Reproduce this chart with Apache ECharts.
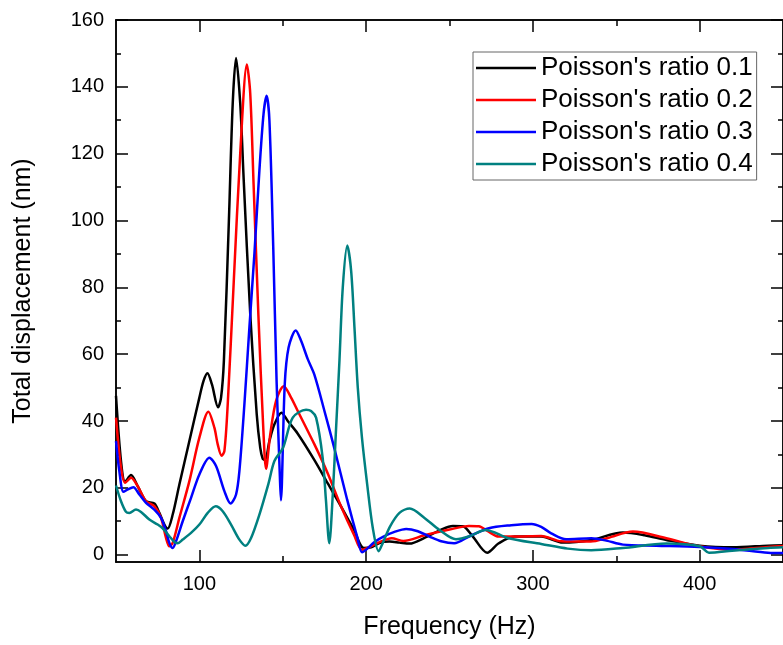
<!DOCTYPE html>
<html lang="en">
<head>
    <meta charset="UTF-8">
    <title>Total displacement vs frequency</title>
    <script type="text/javascript" src="https://cdn.jsdelivr.net/npm/echarts@6/dist/echarts.min.js"></script>
    <style>
        html, body { margin: 0; padding: 0; background: #fff; }
    </style>
</head>
<body>
    <div id="main" style="width: 783px; height: 645px;"></div>
    <script type="text/javascript">
        // data
        var seriesNames = ["Poisson's ratio 0.1", "Poisson's ratio 0.2", "Poisson's ratio 0.3", "Poisson's ratio 0.4"];
        var xMajorTicks = [100, 200, 300, 400];
        var xMinorTicks = [150, 250, 350];
        var yMajorTicks = [0, 20, 40, 60, 80, 100, 120, 140, 160];
        var yMinorTicks = [10, 30, 50, 70, 90, 110, 130, 150];

        var freq1 = [50, 53, 55.5, 59, 63, 68, 73, 76, 79, 81, 84, 88, 94, 100, 102.5, 104.8, 107.5, 111.2, 113, 114.7, 117.7, 120, 122, 124.5, 126.6, 130.5, 134.4, 136.5, 138, 139.4, 142, 145, 149.2, 153, 159, 169, 177, 185, 192.7, 198.6, 203, 208, 214, 220, 226, 235, 245, 252, 258, 264, 272.6, 279.5, 289, 305, 318, 335, 354, 367, 380, 400, 420, 441, 450];
        var disp1 = [47.5, 28, 21.8, 23.8, 20.5, 16, 15.3, 12.5, 9, 7.8, 12, 21, 34, 47, 52, 54.3, 51, 44.1, 47, 58, 100, 135, 148.6, 135, 112, 72, 42, 32, 28.7, 28.3, 34, 39, 42.5, 40, 36.2, 28.3, 21.3, 14.4, 7.4, 2, 2.2, 3.5, 3.9, 3.6, 3.3, 5, 7.5, 8.6, 8.5, 5.4, 0.6, 3.4, 5.4, 5.4, 3.6, 4.4, 6.6, 5.8, 4.4, 2.7, 2.2, 2.7, 2.8];

        var freq2 = [50, 53, 55.5, 59, 63, 68, 73, 77, 80, 82, 84, 88, 94, 100, 105.4, 109, 111, 113.3, 115, 117, 120.6, 124.6, 128.5, 130.5, 132.5, 135.4, 138.4, 140, 142.5, 146, 150.6, 155, 159, 169, 177, 185, 192.7, 197.6, 206.5, 215.4, 222.3, 235, 250, 261.7, 267.6, 273, 279.5, 289, 305, 317, 334.6, 345, 360, 380, 400, 419.5, 441, 450];
        var disp2 = [41, 26, 21.5, 23, 20.5, 16, 14.5, 11, 5, 2.5, 3.5, 11, 22, 35, 42.8, 38, 33, 29.6, 31, 45, 81.5, 121, 146.7, 138, 111, 71.6, 37, 25.7, 36, 46, 50.4, 47, 43, 33, 24.3, 14.4, 6, 1.5, 3.4, 4.9, 4.1, 5.8, 7.5, 8.6, 8.5, 7, 5.4, 5.4, 5.6, 4, 3.9, 5, 6.9, 4.9, 2.5, 1.5, 2.3, 2.6];

        var freq3 = [50, 52, 54.5, 57, 60.4, 64, 68, 73, 77, 80, 82, 84, 86, 90, 95, 100, 106, 110, 115, 118.7, 122, 124, 127, 130, 133, 136, 138.5, 140.3, 142, 144.3, 146.3, 148.3, 148.9, 151.2, 153.5, 157.8, 161, 165, 169, 175, 180.8, 188.7, 194.6, 197.6, 200, 205, 210.4, 217, 224, 231, 238, 245, 252.8, 262, 273.6, 287, 299.3, 305, 311, 320, 335, 344, 354, 374, 400, 420, 441, 450];
        var disp3 = [34, 25, 18.8, 19.5, 20.2, 18, 15.5, 13.5, 11, 7, 3.5, 2, 4, 10, 17, 24, 29, 26.5, 19, 15.3, 18, 25, 45, 68, 90, 115, 132, 137.3, 130, 92, 52, 23, 16.3, 51, 62, 67.1, 64, 58.5, 53.8, 43, 32.1, 16.3, 5.4, 0.7, 1.5, 3.8, 5.4, 6.8, 7.7, 7, 5.4, 4, 3.4, 5.5, 7.9, 8.8, 9.2, 8.3, 6.4, 4.6, 4.9, 4.2, 3, 2.7, 2.3, 1.7, 0.6, 0.5];

        var freq4 = [50, 53, 56, 58, 62, 65, 70, 75, 78, 82, 85, 87, 90, 95, 100, 105, 109.8, 114, 119, 124, 127.6, 131, 136, 141.4, 145, 150.2, 156, 164, 167, 170, 173.9, 175.9, 177.9, 180, 182, 184, 186, 188.7, 191, 193, 195, 197.5, 200.6, 204, 207.5, 210, 214.3, 220, 226.2, 235, 244, 253.9, 262, 271.6, 285.4, 305, 320.9, 335, 354, 380, 400, 405.6, 419.5, 441, 450];
        var disp4 = [20.7, 16, 12.8, 12.5, 13.5, 12.8, 10.5, 9, 7.9, 5.5, 3.8, 3.4, 4.5, 6.5, 9, 12.5, 14.5, 13, 9, 4.5, 2.7, 5, 12, 21.2, 28, 32, 41, 43.4, 43, 41, 29.1, 16.3, 3.4, 18, 38, 58, 80, 92.5, 85, 68, 50, 35, 21.2, 8, 1, 3.5, 8.4, 12.5, 13.8, 11, 7.4, 4.6, 5.5, 7.4, 4.9, 3.2, 1.8, 1.3, 2, 3.3, 2.5, 0.6, 1.2, 2, 2.2];

        var colors = ['#000000', '#ff0000', '#0000ff', '#008080'];
        var freqs = [freq1, freq2, freq3, freq4];
        var disps = [disp1, disp2, disp3, disp4];

        function pairs(xs, ys) {
            return xs.map(function (x, i) { return [x, ys[i]]; });
        }

        var fontFamily = '"Liberation Sans", Arial, sans-serif';
        var axisLine = { show: true, onZero: false, lineStyle: { color: '#000', width: 1.5 } };

        // x axes: main bottom axis + minor ticks + top mirror axes
        function xAx(pos, ticks, len, showLabel, name) {
            return {
                type: 'value', position: pos, min: 50, max: 450,
                name: name || '', nameLocation: 'middle', nameGap: 53,
                nameTextStyle: { fontSize: 25, fontFamily: fontFamily, color: '#000' },
                axisLine: axisLine,
                axisTick: { show: true, inside: true, length: len, customValues: ticks, lineStyle: { color: '#000', width: 1.5 } },
                axisLabel: { show: showLabel, customValues: xMajorTicks, margin: 12, fontSize: 20, fontFamily: fontFamily, color: '#000' },
                splitLine: { show: false }
            };
        }
        function yAx(pos, ticks, len, showLabel, name) {
            return {
                type: 'value', position: pos, min: -2.2, max: 160,
                name: name || '', nameLocation: 'middle', nameGap: 80,
                nameTextStyle: { fontSize: 25, fontFamily: fontFamily, color: '#000' },
                axisLine: axisLine,
                axisTick: { show: true, inside: true, length: len, customValues: ticks, lineStyle: { color: '#000', width: 1.5 } },
                axisLabel: { show: showLabel, customValues: yMajorTicks, margin: 12, fontSize: 20, fontFamily: fontFamily, color: '#000' },
                splitLine: { show: false }
            };
        }

        var myChart = echarts.init(document.getElementById('main'), null, { renderer: 'canvas' });

        var option = {
            animation: false,
            backgroundColor: '#fff',
            grid: { left: 116, top: 20, width: 675, height: 545.5 },
            legend: {
                orient: 'vertical',
                left: 473, top: 52,
                data: seriesNames,
                icon: 'rect',
                itemWidth: 60, itemHeight: 2.5, itemGap: 6,
                padding: [3, 4, 3, 3],
                borderColor: '#666', borderWidth: 1,
                textStyle: { fontSize: 26, lineHeight: 26, fontFamily: fontFamily, color: '#000' }
            },
            xAxis: [
                xAx('bottom', xMajorTicks, 12, true, 'Frequency (Hz)'),
                xAx('bottom', xMinorTicks, 6, false),
                xAx('top', xMajorTicks, 12, false),
                xAx('top', xMinorTicks, 6, false)
            ],
            yAxis: [
                yAx('left', yMajorTicks, 12, true, 'Total displacement (nm)'),
                yAx('left', yMinorTicks, 5, false),
                yAx('right', yMajorTicks, 12, false),
                yAx('right', yMinorTicks, 5, false)
            ],
            series: seriesNames.map(function (name, i) {
                return {
                    name: name,
                    type: 'line',
                    xAxisIndex: 0,
                    yAxisIndex: 0,
                    data: pairs(freqs[i], disps[i]),
                    smooth: 0.3,
                    symbol: 'none',
                    color: colors[i],
                    lineStyle: { color: colors[i], width: 2.5 }
                };
            })
        };

        myChart.setOption(option);
    </script>
</body>
</html>
